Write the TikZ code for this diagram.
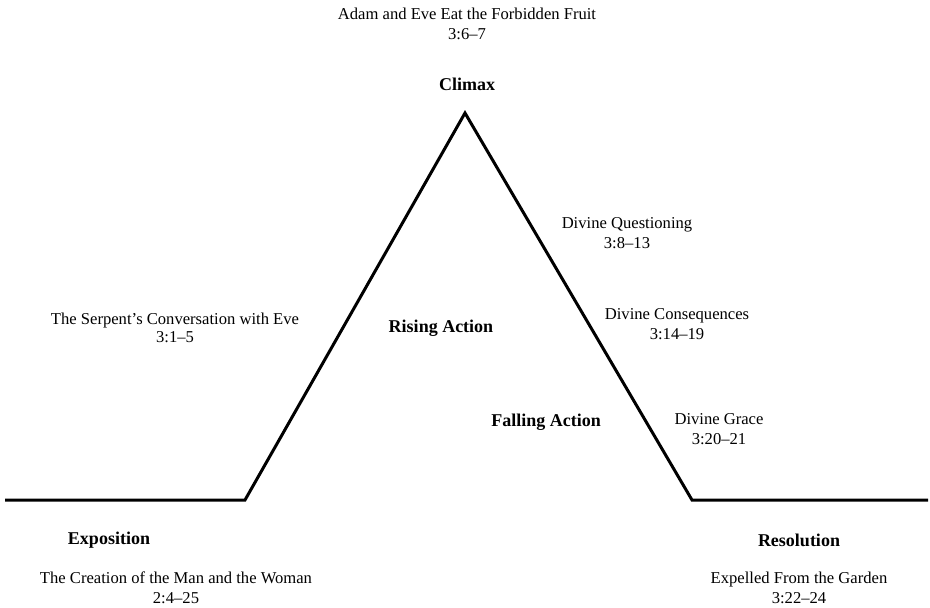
\documentclass[tikz,border=0pt]{standalone}
\usepackage{fontspec}
\setmainfont{Liberation Serif}
\begin{document}
\begin{tikzpicture}[x=1pt,y=-1pt,
  lbl/.style={align=center,inner sep=0pt,font=\fontsize{16.6}{19.5}\selectfont},
  stage/.style={inner sep=0pt,font=\fontsize{18}{20}\selectfont\bfseries},
  plot/.style={line width=3pt,line join=miter,black}]
\useasboundingbox (0,0) rectangle (930,608);
\coordinate (L) at (5,500);
\coordinate (A) at (245,500);
\coordinate (P) at (465,113);
\coordinate (B) at (692,500);
\coordinate (R) at (928,500);
\draw[plot] (L) -- (A) -- (P) -- (B) -- (R);
\node[lbl] (climaxev) at (467,24) {Adam and Eve Eat the Forbidden Fruit\\3:6–7};
\node[stage] (climax) at (467,84) {Climax};
\node[lbl] (quest) at (627,233) {Divine Questioning\\3:8–13};
\node[lbl] (cons) at (677,324) {Divine Consequences\\3:14–19};
\node[lbl] (grace) at (719,429) {Divine Grace\\3:20–21};
\node[lbl,font=\fontsize{16.6}{17.5}\selectfont] (serp) at (175,328) {The Serpent’s Conversation with Eve\\3:1–5};
\node[stage] (rising) at (441,328) {Rising Action};
\node[stage] (falling) at (546,422) {Falling Action};
\node[stage] (expo) at (109,540) {Exposition};
\node[lbl] (creation) at (176,588) {The Creation of the Man and the Woman\\2:4–25};
\node[stage] (resol) at (799,540) {Resolution};
\node[lbl] (expel) at (799,588) {Expelled From the Garden\\3:22–24};
\end{tikzpicture}
\end{document}
